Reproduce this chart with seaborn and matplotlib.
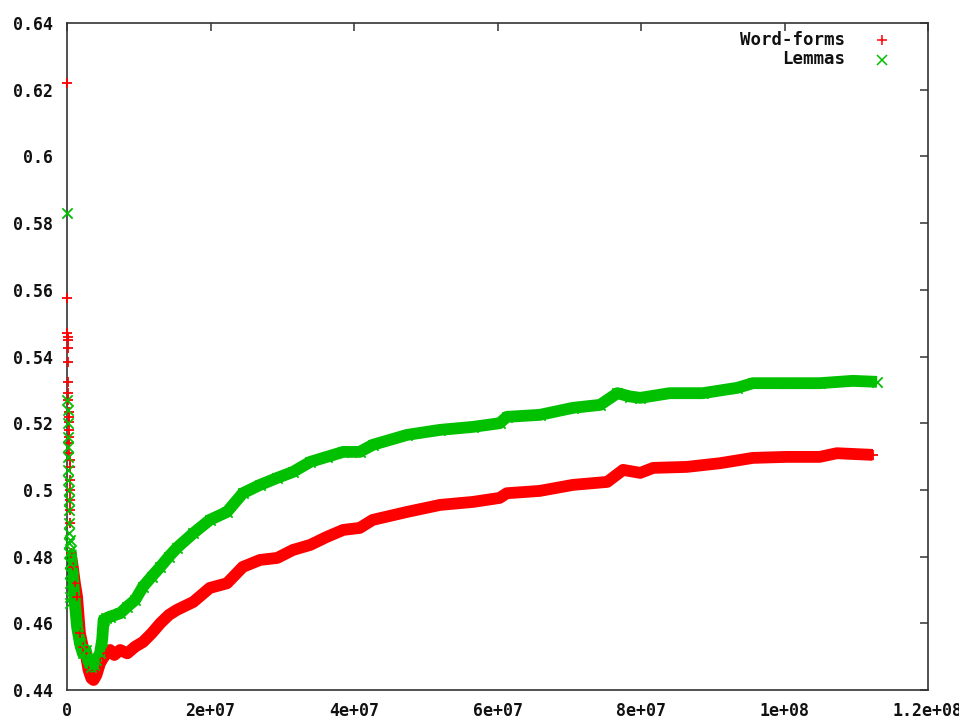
import matplotlib
matplotlib.use("Agg")
import matplotlib.pyplot as plt
import seaborn as sns
import pandas as pd

# Corpus size (tokens, in millions) and ratio values for each series
word_x = [0.02, 0.04, 0.06, 0.08, 0.10, 0.12, 0.14, 0.16, 0.18, 0.20, 0.22, 0.24,
          0.26, 0.28, 0.30, 0.32, 0.34, 0.36, 0.38, 0.40, 0.42, 0.44, 0.46, 0.48,
          0.5, 0.8, 1.1, 1.4, 1.8, 2.2, 2.6, 3.0, 3.4, 3.7, 4.1, 4.6, 5.0, 5.5,
          6.0, 6.6, 7.4, 8.4, 9.5, 10.6, 11.8, 13.0, 14.2, 15.3, 17.6, 19.9,
          22.3, 24.5, 26.9, 29.3, 31.5, 33.9, 36.2, 38.5, 40.8, 42.6, 47.4,
          52.0, 56.6, 60.3, 61.3, 65.9, 70.5, 75.3, 77.5, 79.9, 81.7, 86.4,
          91.0, 95.6, 100.3, 104.9, 107.3, 112.3]
word_y = [0.622, 0.5576, 0.547, 0.5459, 0.545, 0.5426, 0.5384, 0.5324, 0.5291,
          0.527, 0.5235, 0.5205, 0.518, 0.522, 0.514, 0.516, 0.511, 0.507, 0.509,
          0.503, 0.500, 0.497, 0.494, 0.490,
          0.481, 0.477, 0.472, 0.468, 0.457, 0.453, 0.451, 0.446, 0.4435, 0.443,
          0.4445, 0.448, 0.4495, 0.451, 0.452, 0.4505, 0.452, 0.451, 0.453,
          0.4544, 0.457, 0.460, 0.4625, 0.464, 0.4664, 0.4706, 0.472, 0.4769,
          0.479, 0.4796, 0.482, 0.4835, 0.4859, 0.488, 0.4886, 0.491, 0.4934,
          0.4955, 0.4964, 0.4976, 0.499, 0.4997, 0.5015, 0.5024, 0.506, 0.5051,
          0.5066, 0.5069, 0.508, 0.5096, 0.5099, 0.5099, 0.511, 0.5105]

lemma_x = [0.02, 0.05, 0.07, 0.09, 0.11, 0.13, 0.15, 0.17, 0.19, 0.21, 0.23, 0.25,
           0.27, 0.29, 0.31, 0.33, 0.35, 0.37, 0.39, 0.41, 0.43, 0.46, 0.48,
           0.5, 0.8, 1.1, 1.4, 1.8, 2.2, 2.6, 3.0, 3.4, 3.7, 4.1, 4.6, 4.9, 5.1,
           5.5, 6.0, 7.4, 8.4, 9.5, 10.6, 11.8, 13.0, 14.2, 15.3, 17.6, 19.9,
           22.3, 24.5, 26.9, 29.3, 31.5, 33.9, 36.2, 38.5, 40.8, 42.6, 47.4,
           52.0, 56.6, 60.3, 61.3, 65.9, 70.5, 74.3, 76.7, 78.5, 79.9, 84.0,
           88.6, 93.4, 95.6, 100.3, 104.9, 109.5, 112.9]
lemma_y = [0.583, 0.527, 0.524, 0.520, 0.516, 0.513, 0.510, 0.506, 0.503, 0.500,
           0.497, 0.494, 0.490, 0.487, 0.484, 0.481, 0.478, 0.475, 0.472, 0.468,
           0.466, 0.478, 0.485,
           0.482, 0.474, 0.466, 0.459, 0.454, 0.451, 0.452, 0.4485, 0.447,
           0.4475, 0.449, 0.451, 0.455, 0.461, 0.4615, 0.462, 0.463, 0.465,
           0.467, 0.471, 0.474, 0.4769, 0.480, 0.4826, 0.487, 0.491, 0.4934,
           0.499, 0.5015, 0.5036, 0.5054, 0.5084, 0.5099, 0.5114, 0.5114,
           0.5135, 0.5165, 0.518, 0.5189, 0.520, 0.5219, 0.5225, 0.5246, 0.5255,
           0.529, 0.528, 0.5276, 0.529, 0.529, 0.5306, 0.532, 0.532, 0.532,
           0.5327, 0.5324]

x_ticks = [0, 2e7, 4e7, 6e7, 8e7, 1e8, 1.2e8]
x_tick_labels = ["0", "2e+07", "4e+07", "6e+07", "8e+07", "1e+08", "1.2e+08"]
y_ticks = [0.44, 0.46, 0.48, 0.50, 0.52, 0.54, 0.56, 0.58, 0.60, 0.62, 0.64]
y_tick_labels = ["0.44", "0.46", "0.48", "0.5", "0.52", "0.54", "0.56", "0.58",
                 "0.6", "0.62", "0.64"]

RED = "#ff0000"
GREEN = "#00c000"

sns.set_style("white")
plt.rcParams["font.family"] = ["DejaVu Sans Mono"]

word = pd.DataFrame({"x": [v * 1e6 for v in word_x], "y": word_y})
lemma = pd.DataFrame({"x": [v * 1e6 for v in lemma_x], "y": lemma_y})

fig = plt.figure(figsize=(9.59, 7.2), dpi=100)
ax = fig.add_axes([67 / 959, 30 / 720, 861 / 959, 667 / 720])

# dense point bands: a thick trace plus the individual point markers
for df, col, mk in [(word, RED, "+"), (lemma, GREEN, "x")]:
    band = df[df["x"] >= 0.5e6]
    sns.lineplot(data=band, x="x", y="y", ax=ax, color=col, lw=8.5,
                 estimator=None, sort=False, solid_capstyle="butt")
    sns.scatterplot(data=df, x="x", y="y", ax=ax, color=col, marker=mk,
                    s=55, linewidth=1.3, clip_on=False, zorder=3)

ax.set_xlim(0, 1.2e8)
ax.set_ylim(0.44, 0.64)
ax.set_xticks(x_ticks)
ax.set_xticklabels(x_tick_labels)
ax.set_yticks(y_ticks)
ax.set_yticklabels(y_tick_labels)
ax.set_xlabel("")
ax.set_ylabel("")

for s in ax.spines.values():
    s.set_visible(True)
    s.set_color("#333333")
    s.set_linewidth(1.2)
ax.tick_params(direction="in", length=6, width=1.1, color="#333333",
               top=True, right=True, labelsize=12, pad=9)
for lab in ax.get_xticklabels() + ax.get_yticklabels():
    lab.set_fontweight("bold")
    lab.set_color("#111111")
ax.tick_params(axis="y", pad=10)

# key in the upper-right corner, text right-aligned with marker on its right
for i, (name, col, mk) in enumerate([("Word-forms", RED, "+"), ("Lemmas", GREEN, "x")]):
    yk = 1 - (17 + 19.5 * i) / 667
    ax.text((845 - 67) / 861, yk, name, transform=ax.transAxes, ha="right",
            va="center", fontsize=12.5, fontweight="bold", color="#111111")
    ax.plot([(882 - 67) / 861], [yk], marker=mk, color=col, ms=7.5, mew=1.1,
            transform=ax.transAxes, clip_on=False)

fig.savefig("out.png", dpi=100)
